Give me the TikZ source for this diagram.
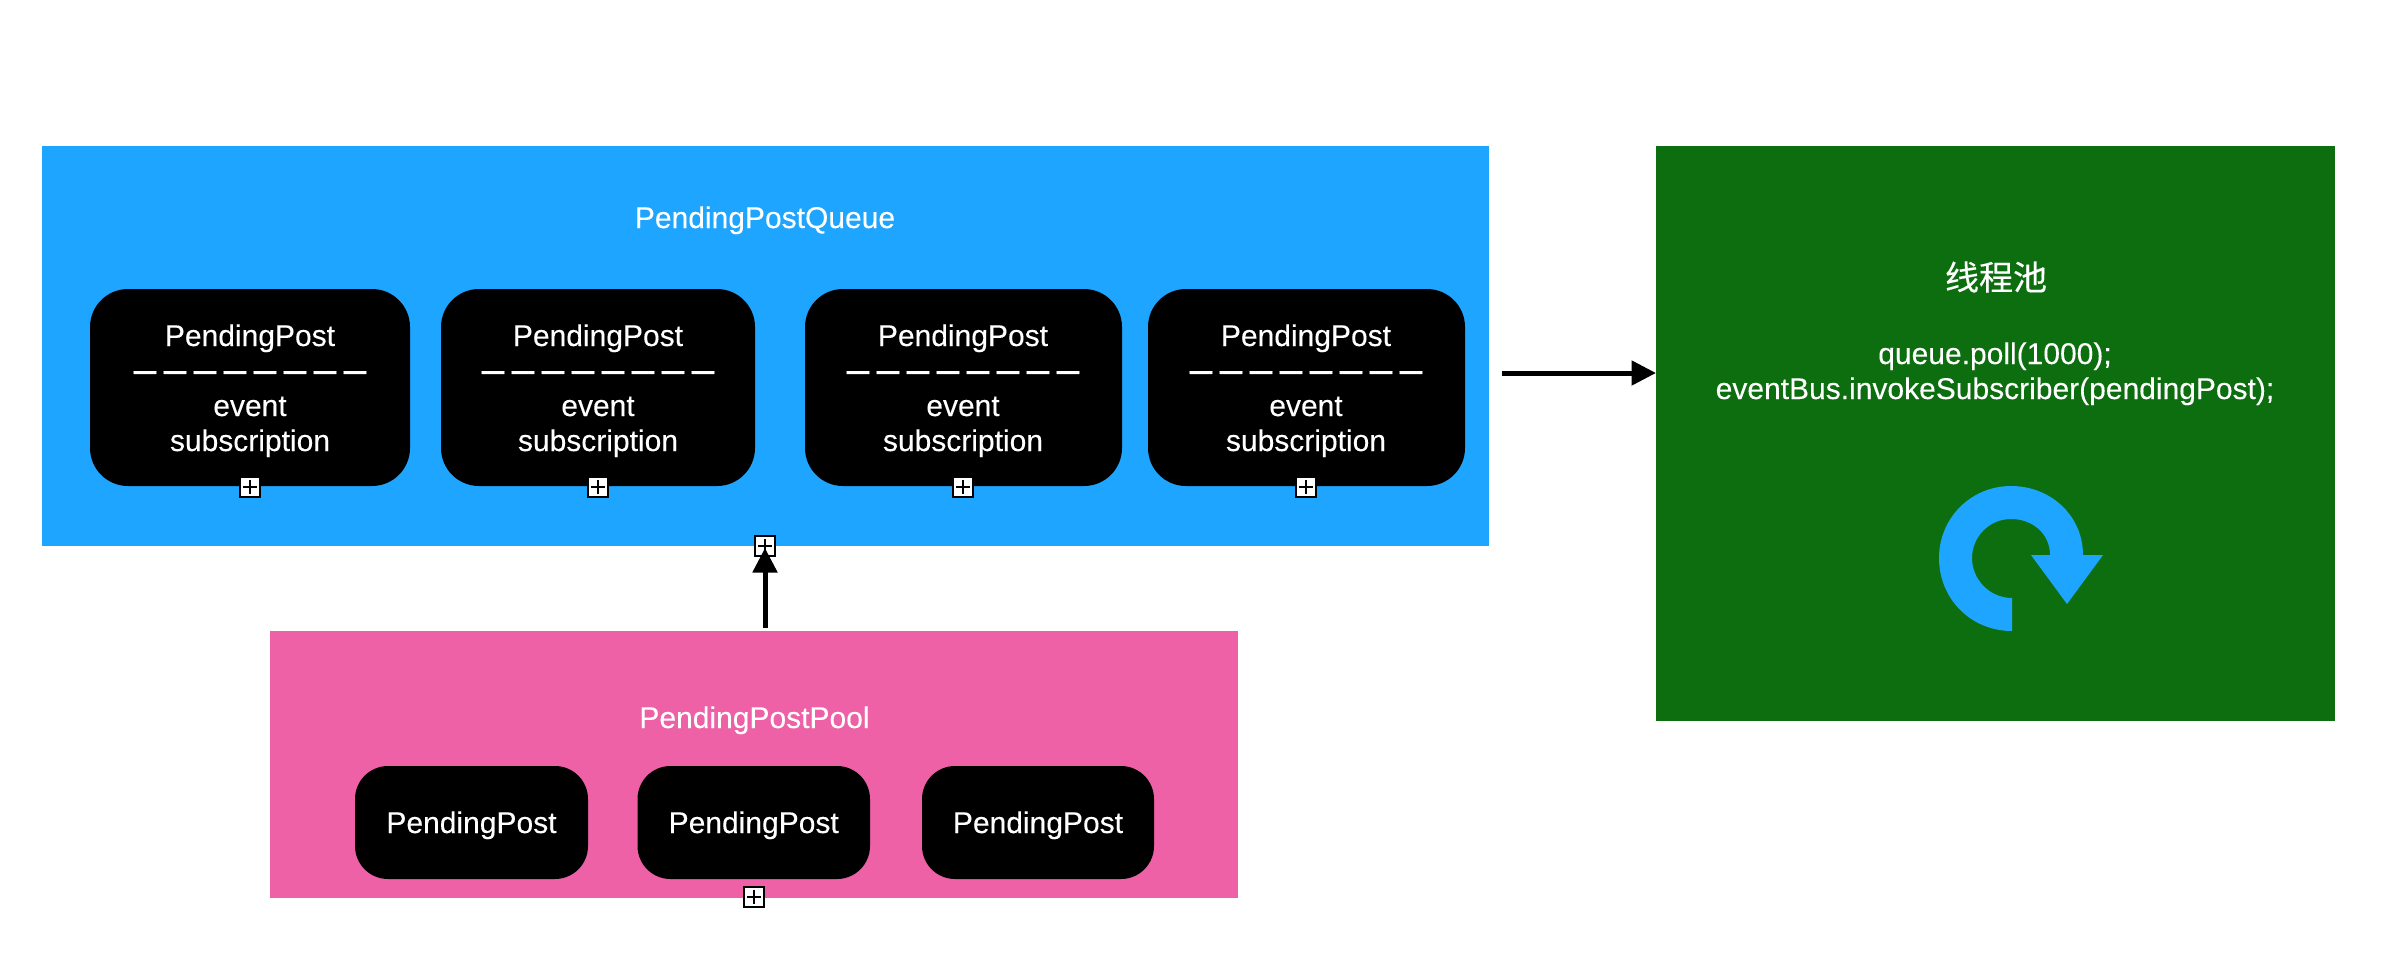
\documentclass[tikz,border=0pt]{standalone}
\usepackage{fontspec}
\setmainfont[FakeBold=0.12]{Liberation Sans}
\newfontfamily\cjkfont[FakeBold=0.3]{Noto Sans CJK SC}
\usetikzlibrary{arrows.meta}
\definecolor{qblue}{RGB}{30,165,255}
\definecolor{tgreen}{RGB}{13,110,15}
\definecolor{ppink}{RGB}{238,97,166}
\tikzset{
  panel/.style={draw=none,inner sep=0pt,outer sep=0pt},
  postbox/.style={fill=black,draw=none,rounded corners=38pt,inner sep=0pt,outer sep=0pt},
  poolbox/.style={postbox,rounded corners=33pt},
  lbl/.style={text=white,anchor=base,inner sep=0pt,font=\fontsize{30}{35}\selectfont},
  dashrow/.style={text=white,anchor=base,inner sep=0pt,font=\fontsize{41}{45}\selectfont},
  handle/.style={fill=white,draw=black,line width=2.2pt,minimum width=19.5pt,minimum height=19.5pt,inner sep=0pt,outer sep=0pt},
  crossbar/.style={draw=black,line width=1.2pt},
  flow/.style={draw=black,line width=5pt,-{Triangle[length=24.5pt,width=24pt]}}
}
\newcommand{\plusmark}[3]{%
  \node[handle] (#1) at (#2,#3) {};
  \draw[crossbar] (#2-7,#3) -- (#2+7,#3) (#2,#3-7) -- (#2,#3+7);
}
\newcommand{\qpost}[4]{% name, x0, x1, text centre
  \node[postbox,minimum width={#3-#2},minimum height=197pt] (#1) at ({(#2+#3)/2},387.5) {};
  \node[lbl] (#1-a) at (#4,346) {PendingPost};
  \node[dashrow] (#1-b) at (#4,383) {\spaceskip=7.2pt – – – – – – – –};
  \node[lbl] (#1-c) at (#4,416) {event};
  \node[lbl] (#1-d) at (#4,451) {subscription};
  \plusmark{#1-h}{#4}{487}
}
\newcommand{\ppost}[3]{% name, x0, x1
  \node[poolbox,minimum width={#3-#2},minimum height=113pt] (#1) at ({(#2+#3)/2},822.5) {};
  \node[lbl] (#1-a) at ({(#2+#3)/2},833) {PendingPost};
}
\begin{document}
\begin{tikzpicture}[x=1pt,y=-1pt]
  \useasboundingbox (0,0) rectangle (2396,978);
  \fill[white] (0,0) rectangle (2396,978);
  % queue panel
  \node[panel,fill=qblue,minimum width=1447pt,minimum height=400pt] (queue) at (765.5,346) {};
  \node[lbl] (queue-t) at (765,228) {PendingPostQueue};
  \qpost{q1}{90}{410}{250}
  \qpost{q2}{441}{755}{598}
  \qpost{q3}{805}{1122}{963}
  \qpost{q4}{1148}{1465}{1306}
  \plusmark{qh}{765}{546}
  % pool panel
  \node[panel,fill=ppink,minimum width=968pt,minimum height=267pt] (pool) at (754,764.5) {};
  \node[lbl] (pool-t) at (754.5,728) {PendingPostPool};
  \ppost{p1}{355}{588}
  \ppost{p2}{637.5}{870}
  \ppost{p3}{922}{1154}
  \plusmark{ph}{754}{897}
  % thread pool
  \node[panel,fill=tgreen,minimum width=679pt,minimum height=575pt] (pool2) at (1995.5,433.5) {};
  \node[text=white,inner sep=0pt,font=\fontsize{34}{40}\selectfont\cjkfont] (pool2-t) at (1996,277) {线程池};
  \node[lbl] (pool2-a) at (1995,364) {queue.poll(1000);};
  \node[lbl] (pool2-b) at (1995,399) {eventBus.invokeSubscriber(pendingPost);};
  % loop arrow
  \fill[qblue] (2012,631)
     .. controls (1971,631) and (1939,599) .. (1939,558)
     .. controls (1939,518) and (1971,486) .. (2011,486)
     .. controls (2051,486) and (2083,516) .. (2083,555)
     -- (2103,555) -- (2067,604) -- (2031,555) -- (2050,555)
     .. controls (2050,534) and (2033,519) .. (2011,519)
     .. controls (1989,519) and (1972,537) .. (1972,558)
     .. controls (1972,580) and (1990,598) .. (2012,598) -- cycle;
  % connectors
  \coordinate (qout) at (1502,373);
  \draw[flow] (qout) -- (qout -| pool2.west);
  \draw[flow] ([yshift=3pt]pool.north -| qh) -- ([yshift=-2pt]qh.center);
\end{tikzpicture}
\end{document}
